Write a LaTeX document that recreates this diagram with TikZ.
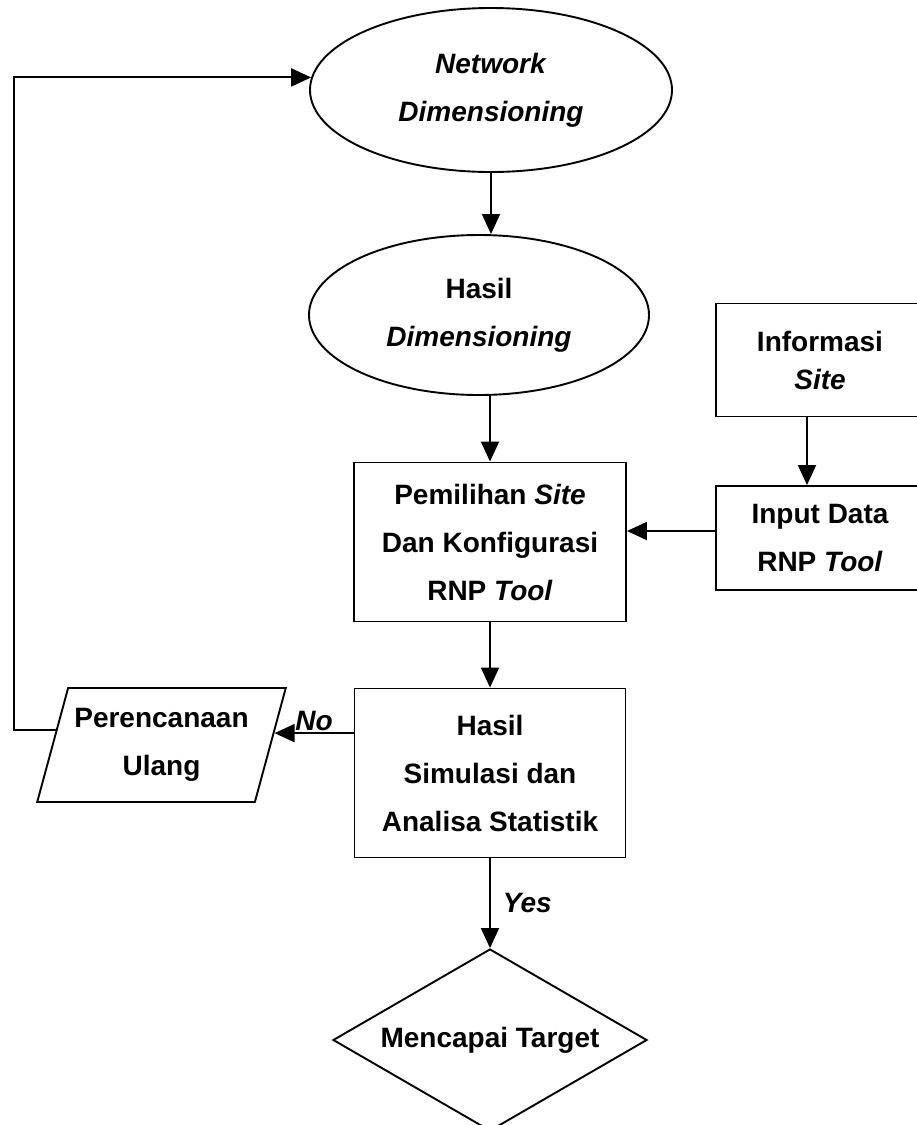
\documentclass[tikz,border=0pt]{standalone}
\usepackage{fontspec}
\setmainfont{Liberation Sans}
\usetikzlibrary{shapes.geometric,arrows.meta}
\begin{document}
\begin{tikzpicture}[x=1pt, y=-1pt, line width=1.9pt,
  font=\fontsize{28}{48}\selectfont\bfseries,
  proc/.style={draw, align=center, inner sep=0pt},
  oval/.style={draw, ellipse, align=center, inner sep=0pt},
  arr/.style={-{Triangle[length=20pt, width=18pt]}},
  lbl/.style={font=\fontsize{28}{30}\selectfont\bfseries\itshape, inner sep=1pt}]
  \useasboundingbox (0,0) rectangle (917,1125);
  \clip (0,0) rectangle (917,1125);
  % shapes
  \node[oval, minimum width=362pt, minimum height=164pt] (nd) at (491,90) {\textit{Network}\\\textit{Dimensioning}};
  \node[oval, minimum width=340pt, minimum height=160pt] (hd) at (479,315) {Hasil\\\textit{Dimensioning}};
  \node[proc, minimum width=208pt, minimum height=113pt] (info) at (820,360) {Informasi\\[-10pt]\textit{Site}};
  \node[proc, minimum width=208pt, minimum height=104pt] (inp) at (820,538) {Input Data\\RNP \textit{Tool}};
  \node[proc, minimum width=272pt, minimum height=159pt] (ps) at (490,542) {Pemilihan \textit{Site}\\Dan Konfigurasi\\RNP \textit{Tool}};
  \node[proc, minimum width=271pt, minimum height=169pt] (hs) at (490,773) {Hasil\\Simulasi dan\\Analisa Statistik};
  \node[trapezium, draw, trapezium left angle=68.5, trapezium right angle=111.5, trapezium stretches=true,
        minimum width=249pt, minimum height=114pt, align=center, inner sep=0pt] (par) at (161.5,745) {Perencanaan\\Ulang};
  \node[diamond, draw, aspect=1.73, inner sep=0pt, minimum width=314pt, minimum height=182pt] (dm) at (490,1040) {Mencapai Target};
  % connectors
  \draw[arr] (nd.south) -- (nd.south |- hd.north);
  \draw[arr] (hd.south -| ps.north) -- (ps.north);
  \draw[arr] ([xshift=-13pt]info.south) -- ([xshift=-13pt]inp.north);
  \draw[arr] ([yshift=7pt]inp.west) -- ([yshift=7pt]inp.west -| ps.east);
  \draw[arr] (ps.south) -- (hs.north);
  \draw[arr] (hs.west |- par.6) -- node[lbl, above] (no) {No} (par.6);
  \draw[arr] (hs.south) -- node[lbl, right=11pt] (yes) {Yes} (dm.north);
  \coordinate (lp) at (14,0);
  \draw[arr] (par.172) -- (par.172 -| lp) |- (nd.176);
\end{tikzpicture}
\end{document}
